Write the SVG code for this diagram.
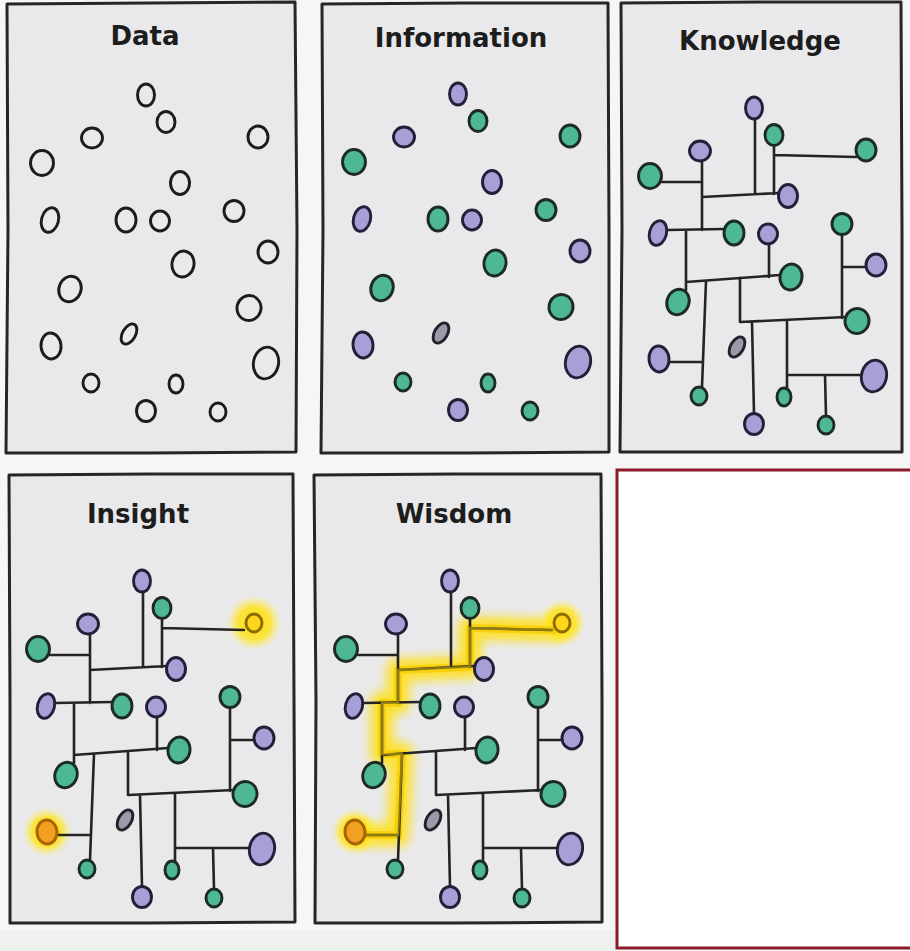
<svg xmlns="http://www.w3.org/2000/svg" width="910" height="951" viewBox="0 0 910 951">
<style>
.frame{fill:#e9e9eb;stroke:#262626;stroke-width:3;stroke-linejoin:round}
.ln{fill:none;stroke:#242424;stroke-width:2.6;stroke-linecap:round;stroke-linejoin:round}
.nd{stroke-width:2.9}
.e{fill:none;stroke:#1c1c1c}
.g{fill:#4db891;stroke:#1c2b25}
.p{fill:#a7a0d6;stroke:#241f38}
.gr{fill:#9b99aa;stroke:#232229}
.y{fill:#ffd51c;stroke:#8c6c00}
.o{fill:#f2a021;stroke:#a86400}
.title{font-family:"DejaVu Sans",Verdana,sans-serif;font-weight:bold;font-size:26px;fill:#1d1d1d;text-anchor:middle}
.glowpath{fill:none;stroke:#ffe01a;stroke-width:24;stroke-opacity:0.85;stroke-linecap:round;stroke-linejoin:round}
.corepath{fill:none;stroke:#f6d10c;stroke-width:8;stroke-linecap:round;stroke-linejoin:round}
.tint{fill:none;stroke:#e8c200;stroke-width:2.6;stroke-opacity:0.55;stroke-linecap:round;stroke-linejoin:round}
</style>
<defs>
<path id="net" d="M147,106V181M94,184L171,180M166,133V181M166,142L248,144M94,148V217M54,169H94M59,217L116,216M78,217V277M78,269L172,262M161,231V264M98,268L94,374M61,349H95M132,265V309M132,309L238,304M144,309L146,401M179,307V375M179,362H254M217,362L218,403M234,221V305M234,254H258"/>
<path id="route" d="M250,144L166,142L166,181L94,184L94,217L78,217L78,268L98,268L94,349L61,349"/>
<radialGradient id="gy">
<stop offset="0" stop-color="#ffdc00" stop-opacity="1"/>
<stop offset="0.6" stop-color="#ffe31a" stop-opacity="0.8"/>
<stop offset="1" stop-color="#fff27a" stop-opacity="0"/>
</radialGradient>
<filter id="blur" x="-20%" y="-20%" width="140%" height="140%"><feGaussianBlur stdDeviation="5"/></filter>
</defs>

<rect x="0" y="0" width="910" height="951" fill="#f6f6f6"/>
<rect x="0" y="930" width="616" height="21" fill="#eff1ef"/>
<rect x="617" y="470" width="300" height="478" fill="#ffffff" stroke="#8a1a2c" stroke-width="3"/>

<!-- DATA -->
<g id="panel-data">
<path class="frame" d="M7,4 L150,3 L295,2 L297,230 L296,452 L150,453 L6,453 L8,230 Z"/>
<text class="title" x="145" y="45">Data</text>
<g id="data-nodes">
<g id="d-n1"><ellipse class="nd e" cx="146" cy="95" rx="8.5" ry="11"/></g>
<g id="d-n2"><ellipse class="nd e" cx="166" cy="122" rx="9" ry="10.5"/></g>
<g id="d-n3"><ellipse class="nd e" cx="92" cy="138" rx="10.5" ry="10"/></g>
<g id="d-n4"><ellipse class="nd e" cx="258" cy="137" rx="10" ry="11"/></g>
<g id="d-n5"><ellipse class="nd e" cx="42" cy="163" rx="11.5" ry="12.5"/></g>
<g id="d-n6"><ellipse class="nd e" cx="180" cy="183" rx="9.5" ry="11.5"/></g>
<g id="d-n7"><ellipse class="nd e" cx="50" cy="220" rx="8.5" ry="12.5" transform="rotate(15 50 220)"/></g>
<g id="d-n8"><ellipse class="nd e" cx="126" cy="220" rx="10" ry="12"/></g>
<g id="d-n9"><ellipse class="nd e" cx="160" cy="221" rx="9.5" ry="10"/></g>
<g id="d-n10"><ellipse class="nd e" cx="234" cy="211" rx="10" ry="10.5"/></g>
<g id="d-n11"><ellipse class="nd e" cx="268" cy="252" rx="10" ry="11"/></g>
<g id="d-n12"><ellipse class="nd e" cx="183" cy="264" rx="11" ry="13" transform="rotate(10 183 264)"/></g>
<g id="d-n13"><ellipse class="nd e" cx="70" cy="289" rx="11" ry="13" transform="rotate(20 70 289)"/></g>
<g id="d-n14"><ellipse class="nd e" cx="249" cy="308" rx="12" ry="12.5" transform="rotate(15 249 308)"/></g>
<g id="d-n15"><ellipse class="nd e" cx="51" cy="346" rx="10" ry="13" transform="rotate(-5 51 346)"/></g>
<g id="d-n16"><ellipse class="nd e" cx="129" cy="334" rx="6.5" ry="11" transform="rotate(30 129 334)"/></g>
<g id="d-n17"><ellipse class="nd e" cx="266" cy="363" rx="12.5" ry="16" transform="rotate(12 266 363)"/></g>
<g id="d-n18"><ellipse class="nd e" cx="91" cy="383" rx="8" ry="9"/></g>
<g id="d-n19"><ellipse class="nd e" cx="176" cy="384" rx="7" ry="9"/></g>
<g id="d-n20"><ellipse class="nd e" cx="146" cy="411" rx="9.5" ry="10.5"/></g>
<g id="d-n21"><ellipse class="nd e" cx="218" cy="412" rx="8" ry="9"/></g>
</g>
</g>

<!-- INFORMATION -->
<g id="panel-information">
<path class="frame" d="M322,4 L465,3 L608,3 L609,230 L609,452 L465,453 L321,453 L323,230 Z"/>
<text class="title" x="461" y="47">Information</text>
<g id="info-nodes" transform="translate(312,-1)">
<g id="i-n1"><ellipse class="nd p" cx="146" cy="95" rx="8.5" ry="11"/></g>
<g id="i-n2"><ellipse class="nd g" cx="166" cy="122" rx="9" ry="10.5"/></g>
<g id="i-n3"><ellipse class="nd p" cx="92" cy="138" rx="10.5" ry="10"/></g>
<g id="i-n4"><ellipse class="nd g" cx="258" cy="137" rx="10" ry="11"/></g>
<g id="i-n5"><ellipse class="nd g" cx="42" cy="163" rx="11.5" ry="12.5"/></g>
<g id="i-n6"><ellipse class="nd p" cx="180" cy="183" rx="9.5" ry="11.5"/></g>
<g id="i-n7"><ellipse class="nd p" cx="50" cy="220" rx="8.5" ry="12.5" transform="rotate(15 50 220)"/></g>
<g id="i-n8"><ellipse class="nd g" cx="126" cy="220" rx="10" ry="12"/></g>
<g id="i-n9"><ellipse class="nd p" cx="160" cy="221" rx="9.5" ry="10"/></g>
<g id="i-n10"><ellipse class="nd g" cx="234" cy="211" rx="10" ry="10.5"/></g>
<g id="i-n11"><ellipse class="nd p" cx="268" cy="252" rx="10" ry="11"/></g>
<g id="i-n12"><ellipse class="nd g" cx="183" cy="264" rx="11" ry="13" transform="rotate(10 183 264)"/></g>
<g id="i-n13"><ellipse class="nd g" cx="70" cy="289" rx="11" ry="13" transform="rotate(20 70 289)"/></g>
<g id="i-n14"><ellipse class="nd g" cx="249" cy="308" rx="12" ry="12.5" transform="rotate(15 249 308)"/></g>
<g id="i-n15"><ellipse class="nd p" cx="51" cy="346" rx="10" ry="13" transform="rotate(-5 51 346)"/></g>
<g id="i-n16"><ellipse class="nd gr" cx="129" cy="334" rx="6.5" ry="11" transform="rotate(30 129 334)"/></g>
<g id="i-n17"><ellipse class="nd p" cx="266" cy="363" rx="12.5" ry="16" transform="rotate(12 266 363)"/></g>
<g id="i-n18"><ellipse class="nd g" cx="91" cy="383" rx="8" ry="9"/></g>
<g id="i-n19"><ellipse class="nd g" cx="176" cy="384" rx="7" ry="9"/></g>
<g id="i-n20"><ellipse class="nd p" cx="146" cy="411" rx="9.5" ry="10.5"/></g>
<g id="i-n21"><ellipse class="nd g" cx="218" cy="412" rx="8" ry="9"/></g>
</g>
</g>

<!-- KNOWLEDGE -->
<g id="panel-knowledge">
<path class="frame" d="M621,3 L760,2 L901,2 L902,230 L902,452 L760,452 L620,452 L622,230 Z"/>
<text class="title" x="760" y="50">Knowledge</text>
<g id="knowledge-links" class="ln" transform="translate(608,13)"><use href="#net"/></g>
<g id="knowledge-nodes" transform="translate(608,13)">
<g id="k-n1"><ellipse class="nd p" cx="146" cy="95" rx="8.5" ry="11"/></g>
<g id="k-n2"><ellipse class="nd g" cx="166" cy="122" rx="9" ry="10.5"/></g>
<g id="k-n3"><ellipse class="nd p" cx="92" cy="138" rx="10.5" ry="10"/></g>
<g id="k-n4"><ellipse class="nd g" cx="258" cy="137" rx="10" ry="11"/></g>
<g id="k-n5"><ellipse class="nd g" cx="42" cy="163" rx="11.5" ry="12.5"/></g>
<g id="k-n6"><ellipse class="nd p" cx="180" cy="183" rx="9.5" ry="11.5"/></g>
<g id="k-n7"><ellipse class="nd p" cx="50" cy="220" rx="8.5" ry="12.5" transform="rotate(15 50 220)"/></g>
<g id="k-n8"><ellipse class="nd g" cx="126" cy="220" rx="10" ry="12"/></g>
<g id="k-n9"><ellipse class="nd p" cx="160" cy="221" rx="9.5" ry="10"/></g>
<g id="k-n10"><ellipse class="nd g" cx="234" cy="211" rx="10" ry="10.5"/></g>
<g id="k-n11"><ellipse class="nd p" cx="268" cy="252" rx="10" ry="11"/></g>
<g id="k-n12"><ellipse class="nd g" cx="183" cy="264" rx="11" ry="13" transform="rotate(10 183 264)"/></g>
<g id="k-n13"><ellipse class="nd g" cx="70" cy="289" rx="11" ry="13" transform="rotate(20 70 289)"/></g>
<g id="k-n14"><ellipse class="nd g" cx="249" cy="308" rx="12" ry="12.5" transform="rotate(15 249 308)"/></g>
<g id="k-n15"><ellipse class="nd p" cx="51" cy="346" rx="10" ry="13" transform="rotate(-5 51 346)"/></g>
<g id="k-n16"><ellipse class="nd gr" cx="129" cy="334" rx="6.5" ry="11" transform="rotate(30 129 334)"/></g>
<g id="k-n17"><ellipse class="nd p" cx="266" cy="363" rx="12.5" ry="16" transform="rotate(12 266 363)"/></g>
<g id="k-n18"><ellipse class="nd g" cx="91" cy="383" rx="8" ry="9"/></g>
<g id="k-n19"><ellipse class="nd g" cx="176" cy="384" rx="7" ry="9"/></g>
<g id="k-n20"><ellipse class="nd p" cx="146" cy="411" rx="9.5" ry="10.5"/></g>
<g id="k-n21"><ellipse class="nd g" cx="218" cy="412" rx="8" ry="9"/></g>
</g>
</g>

<!-- INSIGHT -->
<g id="panel-insight">
<path class="frame" d="M9,475 L150,474 L293,474 L294,700 L295,922 L150,923 L10,923 L10,700 Z"/>
<text class="title" x="138" y="523">Insight</text>
<g id="insight-glow" transform="translate(-4,486)">
<circle cx="258" cy="137" r="28" fill="url(#gy)"/>
<circle cx="51" cy="346" r="25" fill="url(#gy)"/>
</g>
<g id="insight-links" class="ln" transform="translate(-4,486)"><use href="#net"/></g>
<g id="insight-nodes" transform="translate(-4,486)">
<g id="s-n1"><ellipse class="nd p" cx="146" cy="95" rx="8.5" ry="11"/></g>
<g id="s-n2"><ellipse class="nd g" cx="166" cy="122" rx="9" ry="10.5"/></g>
<g id="s-n3"><ellipse class="nd p" cx="92" cy="138" rx="10.5" ry="10"/></g>
<g id="s-n4"><ellipse class="nd y" cx="258" cy="137" rx="8" ry="9"/></g>
<g id="s-n5"><ellipse class="nd g" cx="42" cy="163" rx="11.5" ry="12.5"/></g>
<g id="s-n6"><ellipse class="nd p" cx="180" cy="183" rx="9.5" ry="11.5"/></g>
<g id="s-n7"><ellipse class="nd p" cx="50" cy="220" rx="8.5" ry="12.5" transform="rotate(15 50 220)"/></g>
<g id="s-n8"><ellipse class="nd g" cx="126" cy="220" rx="10" ry="12"/></g>
<g id="s-n9"><ellipse class="nd p" cx="160" cy="221" rx="9.5" ry="10"/></g>
<g id="s-n10"><ellipse class="nd g" cx="234" cy="211" rx="10" ry="10.5"/></g>
<g id="s-n11"><ellipse class="nd p" cx="268" cy="252" rx="10" ry="11"/></g>
<g id="s-n12"><ellipse class="nd g" cx="183" cy="264" rx="11" ry="13" transform="rotate(10 183 264)"/></g>
<g id="s-n13"><ellipse class="nd g" cx="70" cy="289" rx="11" ry="13" transform="rotate(20 70 289)"/></g>
<g id="s-n14"><ellipse class="nd g" cx="249" cy="308" rx="12" ry="12.5" transform="rotate(15 249 308)"/></g>
<g id="s-n15"><ellipse class="nd o" cx="51" cy="346" rx="10" ry="12" transform="rotate(-5 51 346)"/></g>
<g id="s-n16"><ellipse class="nd gr" cx="129" cy="334" rx="6.5" ry="11" transform="rotate(30 129 334)"/></g>
<g id="s-n17"><ellipse class="nd p" cx="266" cy="363" rx="12.5" ry="16" transform="rotate(12 266 363)"/></g>
<g id="s-n18"><ellipse class="nd g" cx="91" cy="383" rx="8" ry="9"/></g>
<g id="s-n19"><ellipse class="nd g" cx="176" cy="384" rx="7" ry="9"/></g>
<g id="s-n20"><ellipse class="nd p" cx="146" cy="411" rx="9.5" ry="10.5"/></g>
<g id="s-n21"><ellipse class="nd g" cx="218" cy="412" rx="8" ry="9"/></g>
</g>
</g>

<!-- WISDOM -->
<g id="panel-wisdom">
<path class="frame" d="M314,475 L455,474 L601,474 L602,700 L602,922 L455,923 L315,923 L316,700 Z"/>
<text class="title" x="454" y="523">Wisdom</text>
<g id="wisdom-glow" transform="translate(304,486)">
<use href="#route" class="glowpath" filter="url(#blur)"/>
<circle cx="258" cy="137" r="24" fill="url(#gy)"/>
<circle cx="51" cy="346" r="24" fill="url(#gy)"/>
<use href="#route" class="corepath"/>
</g>
<g id="wisdom-links" class="ln" transform="translate(304,486)"><use href="#net"/></g>
<g id="wisdom-route-tint" transform="translate(304,486)"><use href="#route" class="tint"/></g>
<g id="wisdom-nodes" transform="translate(304,486)">
<g id="w-n1"><ellipse class="nd p" cx="146" cy="95" rx="8.5" ry="11"/></g>
<g id="w-n2"><ellipse class="nd g" cx="166" cy="122" rx="9" ry="10.5"/></g>
<g id="w-n3"><ellipse class="nd p" cx="92" cy="138" rx="10.5" ry="10"/></g>
<g id="w-n4"><ellipse class="nd y" cx="258" cy="137" rx="8" ry="9"/></g>
<g id="w-n5"><ellipse class="nd g" cx="42" cy="163" rx="11.5" ry="12.5"/></g>
<g id="w-n6"><ellipse class="nd p" cx="180" cy="183" rx="9.5" ry="11.5"/></g>
<g id="w-n7"><ellipse class="nd p" cx="50" cy="220" rx="8.5" ry="12.5" transform="rotate(15 50 220)"/></g>
<g id="w-n8"><ellipse class="nd g" cx="126" cy="220" rx="10" ry="12"/></g>
<g id="w-n9"><ellipse class="nd p" cx="160" cy="221" rx="9.5" ry="10"/></g>
<g id="w-n10"><ellipse class="nd g" cx="234" cy="211" rx="10" ry="10.5"/></g>
<g id="w-n11"><ellipse class="nd p" cx="268" cy="252" rx="10" ry="11"/></g>
<g id="w-n12"><ellipse class="nd g" cx="183" cy="264" rx="11" ry="13" transform="rotate(10 183 264)"/></g>
<g id="w-n13"><ellipse class="nd g" cx="70" cy="289" rx="11" ry="13" transform="rotate(20 70 289)"/></g>
<g id="w-n14"><ellipse class="nd g" cx="249" cy="308" rx="12" ry="12.5" transform="rotate(15 249 308)"/></g>
<g id="w-n15"><ellipse class="nd o" cx="51" cy="346" rx="10" ry="12" transform="rotate(-5 51 346)"/></g>
<g id="w-n16"><ellipse class="nd gr" cx="129" cy="334" rx="6.5" ry="11" transform="rotate(30 129 334)"/></g>
<g id="w-n17"><ellipse class="nd p" cx="266" cy="363" rx="12.5" ry="16" transform="rotate(12 266 363)"/></g>
<g id="w-n18"><ellipse class="nd g" cx="91" cy="383" rx="8" ry="9"/></g>
<g id="w-n19"><ellipse class="nd g" cx="176" cy="384" rx="7" ry="9"/></g>
<g id="w-n20"><ellipse class="nd p" cx="146" cy="411" rx="9.5" ry="10.5"/></g>
<g id="w-n21"><ellipse class="nd g" cx="218" cy="412" rx="8" ry="9"/></g>
</g>
</g>
</svg>
